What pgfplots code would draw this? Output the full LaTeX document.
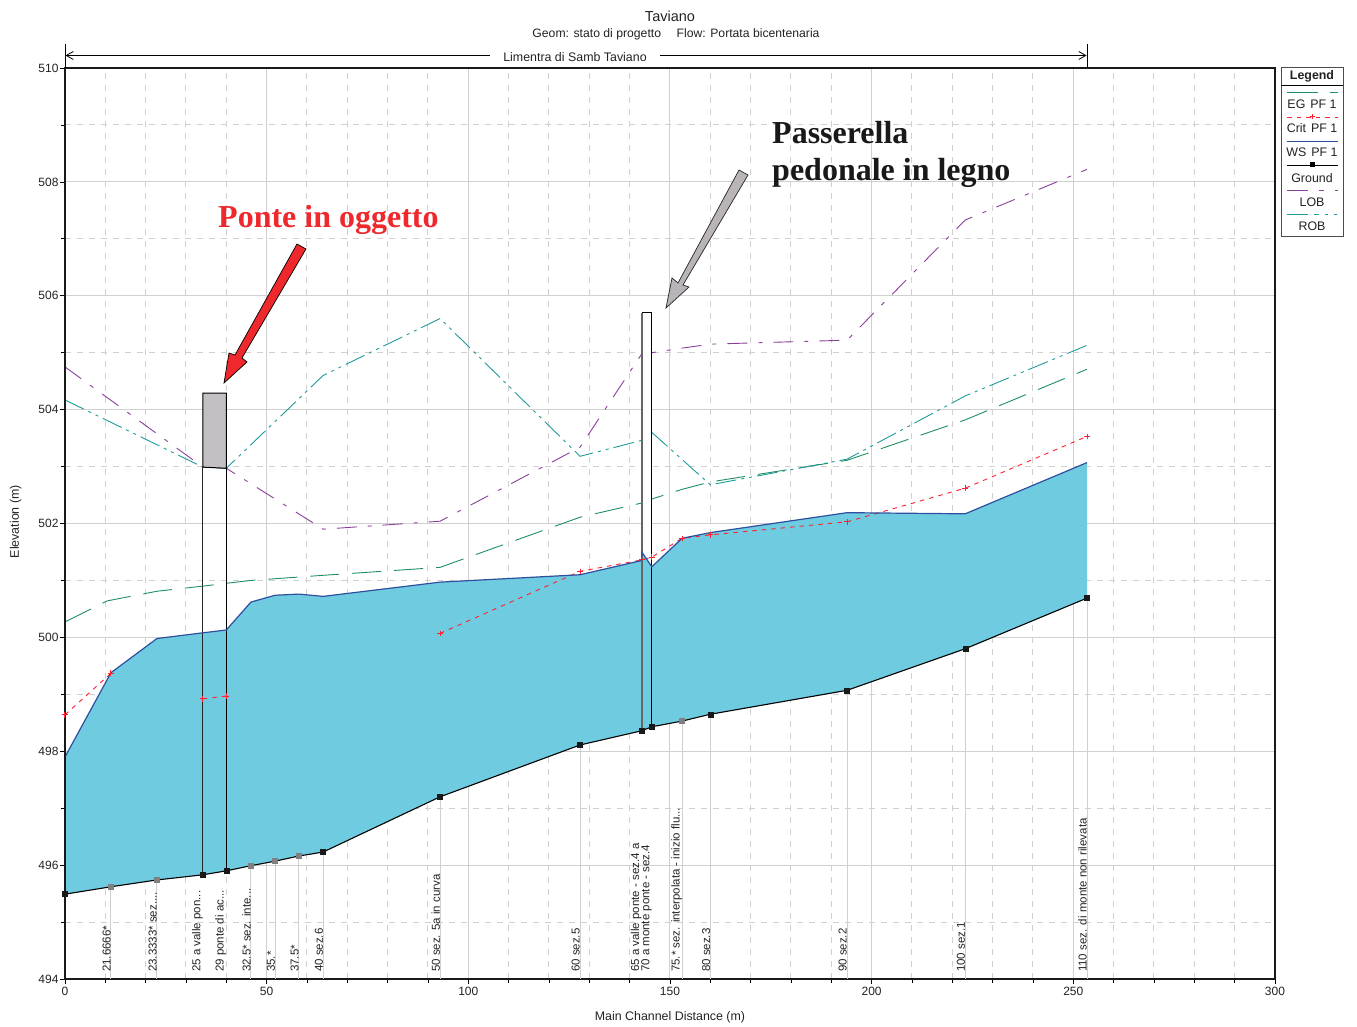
\documentclass[border=0pt]{standalone}
\usepackage{fontspec}
\setmainfont{Liberation Sans}
\newfontfamily\timesb{Liberation Serif}
\usepackage{pgfplots}
\pgfplotsset{compat=1.18}
\usetikzlibrary{arrows.meta}
\definecolor{water}{HTML}{6FCBE0}
\definecolor{wsc}{HTML}{2F4F9F}
\definecolor{egc}{HTML}{1F8F5F}
\definecolor{critc}{HTML}{FF2030}
\definecolor{lobc}{HTML}{8A3F98}
\definecolor{robc}{HTML}{1F9A9A}
\definecolor{gridc}{HTML}{D0D0D0}
\definecolor{deck}{HTML}{C4BFC3}
\definecolor{txtc}{HTML}{222222}
\newcommand{\fs}{\fontsize{12.4}{14.5}\selectfont}
\newcommand{\fss}{\fontsize{11.5}{13.5}\selectfont}
\tikzset{
 egdash/.style={dash pattern=on 29pt off 13pt},
 robdash/.style={dash pattern=on 21pt off 5pt on 3pt off 5pt on 3pt off 5pt},
 lobdash/.style={dash pattern=on 20pt off 11pt on 4pt off 11pt},
 critdash/.style={dash pattern=on 4.5pt off 5pt},
}
\begin{document}
\begin{tikzpicture}
\path[use as bounding box] (-65pt,-47pt) rectangle (1292pt,979pt);
\begin{axis}[
  at={(0pt,0pt)}, anchor=south west,
  scale only axis, width=1210pt, height=911pt,
  xmin=0, xmax=300, ymin=494, ymax=510,
  xtick={0,50,100,150,200,250,300}, ytick={494,496,498,500,502,504,506,508,510},
  minor x tick num=4, minor y tick num=1,
  tick pos=left,
  tick align=outside,
  major tick length=5pt, minor tick length=4pt,
  every tick/.style={black,line width=0.7pt},
  axis line style={line width=2.6pt,black!90},
  grid=both,
  major grid style={gridc,line width=1pt},
  minor grid style={gridc,line width=1pt,dash pattern=on 6pt off 6pt},
  unbounded coords=jump,
  clip=false,
  tick label style={font=\fontsize{12}{14}\selectfont,text=txtc},
  yticklabel style={xshift=2pt},
  /pgf/number format/assume math mode=true,
  /pgf/number format/1000 sep={},
  title={Taviano},
  title style={at={(axis description cs:0.5,1)},anchor=south,yshift=37pt,font=\fontsize{14.5}{16}\selectfont,text=txtc},
  xlabel={Main Channel Distance (m)},
  ylabel={Elevation (m)},
  xlabel style={at={(axis description cs:0.5,0)},anchor=north,yshift=-29pt,font=\fs,text=txtc},
  ylabel style={at={(axis description cs:0,0.502)},anchor=south,rotate=0,yshift=40pt,font=\fs,text=txtc},
]
% vertical section lines
\addplot[gridc,line width=1pt] coordinates {
 (0,494)(0,495.49) (nan,nan)
 (11.4,494)(11.4,495.62) (nan,nan)
 (22.8,494)(22.8,495.74) (nan,nan)
 (46.1,494)(46.1,495.99) (nan,nan)
 (52.1,494)(52.1,496.07) (nan,nan)
 (58,494)(58,496.16) (nan,nan)
 (64,494)(64,496.23) (nan,nan)
 (93,494)(93,497.2) (nan,nan)
 (127.7,494)(127.7,498.11) (nan,nan)
 (153,494)(153,498.53) (nan,nan)
 (160,494)(160,498.65) (nan,nan)
 (193.9,494)(193.9,499.07) (nan,nan)
 (223.2,494)(223.2,499.8) (nan,nan)
 (253.4,494)(253.4,500.69)
};
% EG
\addplot[egc,line width=0.9pt,egdash] coordinates {
 (0,500.27)(10.4,500.64)(22.8,500.81)(34.2,500.9)(40,500.95)(46.1,501.0)(58,501.06)(64,501.09)
 (93,501.23)(127.7,502.11)(143,502.36)(145.5,502.43)(153,502.6)(160,502.73)(193.9,503.11)(223.2,503.82)(253.4,504.71)};
% LOB
\addplot[lobc,line width=0.9pt,lobdash] coordinates {
 (0,504.75)(34.2,502.99)(40,502.97)(64,501.9)(93,502.04)(127.7,503.34)(143,504.98)(145.5,505.0)
 (153,505.08)(160,505.15)(193.9,505.22)(223.2,507.33)(253.4,508.22)};
% ROB
\addplot[robc,line width=0.9pt,robdash] coordinates {
 (0,504.17)(34.2,502.99)(40,502.97)(64,504.6)(93,505.6)(127.7,503.18)(143,503.46)(145.5,503.6)
 (160,502.68)(193.9,503.13)(223.2,504.24)(253.4,505.13)};
% footbridge: white deck
\addplot[draw=none,fill=white] coordinates {(143,498.36)(143,505.7)(145.5,505.7)(145.5,498.43)} --cycle;
% water body
\addplot[draw=none,fill=water] coordinates {
 (0,497.9)(11.4,499.38)(22.8,499.98)(34.2,500.08)(40,500.13)(46.1,500.62)(52.1,500.74)(58,500.76)(64,500.72)
 (93,500.97)(127.7,501.1)(143,501.35)(143,501.5)(145.5,501.24)(153,501.74)(160,501.84)(193.9,502.19)(223.2,502.17)(253.4,503.07)
 (253.4,500.69)(223.2,499.8)(193.9,499.07)(160,498.65)(153,498.53)(145.5,498.43)(143,498.36)(127.7,498.11)(93,497.2)
 (64,496.23)(58,496.16)(52.1,496.07)(46.1,495.99)(40,495.9)(34.2,495.83)(22.8,495.74)(11.4,495.62)(0,495.49)} --cycle;
% road bridge deck
\addplot[black,fill=deck,line width=1pt] coordinates {(34.2,502.99)(34.2,504.29)(40,504.29)(40,502.97)} --cycle;
% piers and bridge outlines
\addplot[black!85,line width=1.1pt] coordinates {(34.2,495.83)(34.2,502.99)};
\addplot[black,line width=1.1pt] coordinates {(40,495.9)(40,502.97)};
\addplot[black!60,line width=1.6pt] coordinates {(143,498.36)(143,505.7)};
\addplot[black,line width=1.1pt] coordinates {(143,505.7)(145.5,505.7)(145.5,498.43)};
% Crit
\addplot[critc,line width=0.9pt,critdash,mark=+,mark size=2.8pt,mark options={solid,line width=1pt}] coordinates {
 (0,498.64)(11.4,499.37)(nan,nan)
 (34.2,498.92)(40,498.97)(nan,nan)
 (93,500.07)(127.7,501.16)(143,501.36)(145.5,501.41)(153,501.74)(160,501.8)(193.9,502.03)(223.2,502.62)(253.4,503.53)};
% WS
\addplot[wsc,line width=1.2pt] coordinates {
 (0,497.9)(11.4,499.38)(22.8,499.98)(34.2,500.08)(40,500.13)(46.1,500.62)(52.1,500.74)(58,500.76)(64,500.72)
 (93,500.97)(127.7,501.1)(143,501.35)(143,501.5)(145.5,501.24)(153,501.74)(160,501.84)(193.9,502.19)(223.2,502.17)(253.4,503.07)};
% Ground
\addplot[black,line width=1.1pt] coordinates {
 (0,495.49)(11.4,495.62)(22.8,495.74)(34.2,495.83)(40,495.9)(46.1,495.99)(52.1,496.07)(58,496.16)(64,496.23)
 (93,497.2)(127.7,498.11)(143,498.36)(145.5,498.43)(153,498.53)(160,498.65)(193.9,499.07)(223.2,499.8)(253.4,500.69)};
\addplot[only marks,mark=square*,mark size=2.5pt,black!90] coordinates {
 (0,495.49)(34.2,495.83)(40,495.9)(64,496.23)(93,497.2)(127.7,498.11)(143,498.36)(145.5,498.43)(160,498.65)(193.9,499.07)(223.2,499.8)(253.4,500.69)};
\addplot[only marks,mark=square*,mark size=2.5pt,black!50] coordinates {
 (11.4,495.62)(22.8,495.74)(46.1,495.99)(52.1,496.07)(58,496.16)(153,498.53)};
% frame over the water
\addplot[black!90,line width=2.6pt] coordinates {(0,494)(0,510)};
% section labels
\begin{scope}[every node/.style={rotate=90,anchor=south west,font=\fss,text=txtc,inner sep=0pt}]
\node at (axis cs:11.4,494.12) {21.6666*};
\node at (axis cs:22.8,494.12) {23.3333* sez....};
\node at (axis cs:34.2,494.12) {25 a valle pon...};
\node at (axis cs:40,494.12) {29 ponte di ac...};
\node at (axis cs:46.1,494.12) {32.5* sez. inte...};
\node at (axis cs:52.1,494.12) {35.*};
\node at (axis cs:58,494.12) {37.5*};
\node at (axis cs:64,494.12) {40 sez.6};
\node at (axis cs:93,494.12) {50 sez. 5a in curva};
\node at (axis cs:127.7,494.12) {60 sez.5};
\node at (axis cs:143,494.12) {65 a valle ponte - sez.4 a};
\node at (axis cs:145.5,494.12) {70 a monte ponte - sez.4};
\node at (axis cs:153,494.12) {75.* sez. interpolata - inizio flu...};
\node at (axis cs:160,494.12) {80 sez.3};
\node at (axis cs:193.9,494.12) {90 sez.2};
\node at (axis cs:223.2,494.12) {100 sez.1};
\node at (axis cs:253.4,494.12) {110 sez. di monte non rilevata};
\end{scope}
\end{axis}
% annotation layer in reference pixel coordinates
\begin{scope}[shift={(-65pt,979pt)},x=1pt,y=-1pt]
\node[font=\fontsize{12.2}{14}\selectfont,text=txtc] at (676,34) {Geom: stato di progetto\hspace{1em} Flow: Portata bicentenaria};
\draw[black,line width=0.8pt] (65,44)--(65,68);
\draw[black,line width=0.8pt] (1087,44)--(1087,68);
\draw[black,line width=0.8pt,-{Straight Barb[length=7pt,width=8pt]}] (490,55.5)--(65.5,55.5);
\draw[black,line width=0.8pt,-{Straight Barb[length=7pt,width=8pt]}] (660,55.5)--(1086.5,55.5);
\node[font=\fs,text=txtc] at (575,57) {Limentra di Samb Taviano};
% arrows
\draw[black,fill={rgb,255:red,238;green,40;blue,44},line width=0.7pt] (297,244)--(306,249)--(242,358)--(247,362)--(224,383)--(229,353)--(235,355)--cycle;
\draw[black!85,fill={rgb,255:red,184;green,180;blue,184},line width=0.7pt] (739,170)--(748,175)--(683,285)--(689,287)--(666,308)--(672,278)--(678,283)--cycle;
\node[font=\timesb\fontsize{32}{37}\selectfont\bfseries,text={rgb,255:red,238;green,40;blue,44},anchor=base west,inner sep=0pt] at (218,228) {Ponte in oggetto};
\node[font=\timesb\fontsize{32}{37}\selectfont\bfseries,text=black!90,anchor=base west,inner sep=0pt] at (772,144) {Passerella};
\node[font=\timesb\fontsize{32}{37}\selectfont\bfseries,text=black!90,anchor=base west,inner sep=0pt] at (772,181) {pedonale in legno};
% legend
\draw[black!70,line width=1pt,fill=white] (1281,68) rectangle (1343,237);
\draw[black,line width=0.8pt] (1281,85)--(1343,85);
\node[font=\fs\bfseries,text=txtc] at (1312,76) {Legend};
\draw[egc,line width=0.9pt,dash pattern=on 31pt off 12pt on 8pt] (1287,92)--(1338,92);
\node[font=\fs,text=txtc] at (1312,104) {EG\hspace{0.4em}PF 1};
\draw[critc,line width=0.9pt,critdash] (1287,117)--(1338,117);
\draw[critc,line width=1pt] (1309.5,117)--(1314.5,117) (1312,114.5)--(1312,119.5);
\node[font=\fs,text=txtc] at (1312,128) {Crit\hspace{0.4em}PF 1};
\draw[wsc,line width=0.9pt] (1287,141)--(1338,141);
\node[font=\fs,text=txtc] at (1312,152) {WS\hspace{0.4em}PF 1};
\draw[black,line width=0.9pt] (1287,165)--(1338,165);
\fill[black] (1309.5,162.5) rectangle (1314.5,167.5);
\node[font=\fs,text=txtc] at (1312,178) {Ground};
\draw[lobc,line width=0.9pt,dash pattern=on 21pt off 11pt on 5pt off 11pt on 3pt] (1287,190)--(1338,190);
\node[font=\fs,text=txtc] at (1312,202) {LOB};
\draw[robc,line width=0.9pt,dash pattern=on 21pt off 6pt on 5pt off 6pt on 3pt off 6pt on 3pt] (1287,214)--(1338,214);
\node[font=\fs,text=txtc] at (1312,226) {ROB};
\end{scope}
\end{tikzpicture}
\end{document}
